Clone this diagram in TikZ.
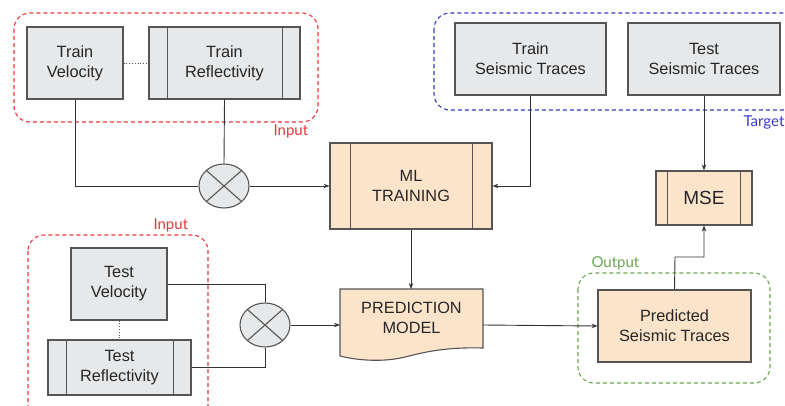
\documentclass[tikz,border=0pt]{standalone}
\usepackage{fontspec}
\setmainfont{Liberation Sans}
\newfontfamily\labelfont{Lato}
\usetikzlibrary{arrows.meta,calc,shapes.geometric}
\definecolor{boxgray}{HTML}{E6E8EA}
\definecolor{peach}{HTML}{FCE4CB}
\definecolor{edge}{HTML}{555555}
\definecolor{inred}{HTML}{E8383B}
\definecolor{tgblue}{HTML}{3A3ACF}
\definecolor{outgreen}{HTML}{6AA84F}
\begin{document}
\begin{tikzpicture}[x=1pt,y=-1pt,
  txt/.style={font=\fontsize{16.3}{20}\selectfont, align=center, text=black!85},
  plainbox/.style={txt, draw=edge, line width=1.1pt, fill=boxgray, inner sep=0pt},
  procbox/.style={txt, draw=edge, line width=1.1pt, inner sep=0pt},
  group/.style={dashed, dash pattern=on 4pt off 3pt, line width=1.1pt, rounded corners=16pt},
  grouplabel/.style={font=\labelfont\fontsize{15}{16}\selectfont, anchor=base west},
  link/.style={draw=black!80, line width=0.9pt},
  arr/.style={link, -{Stealth[length=6pt,width=4.5pt]}},
  mult/.style={draw=edge, line width=1.1pt, fill=boxgray, ellipse, minimum width=50pt, minimum height=44pt, inner sep=0pt}
]
\useasboundingbox (0,0) rectangle (785,405);
\fill[white] (0,0) rectangle (785,405);

% ---- group frames
\draw[group, draw=inred] (14,13) rectangle (318,122);
\node[grouplabel, text=inred] (lblin1) at (270,135) {Input};
\draw[group, draw=tgblue] (434,13) rectangle (810,110);
\node[grouplabel, text=tgblue] (lbltg) at (740,126) {Target};
\draw[group, draw=inred] (28,235) rectangle (208,425);
\node[grouplabel, text=inred] (lblin2) at (150,229) {Input};
\draw[group, draw=outgreen] (578,273) rectangle (770,383);
\node[grouplabel, text=outgreen] (lblout) at (588,267) {Output};

% ---- plain (grey) boxes
\node[plainbox, minimum width=96pt, minimum height=72pt] (trv) at (75,63) {Train\\Velocity};
\node[plainbox, minimum width=151pt, minimum height=72pt] (trr) at (224.5,63) {Train\\Reflectivity};
\draw[edge, line width=1.1pt] ([xshift=19pt]trr.north west) -- ([xshift=19pt]trr.south west)
  ([xshift=-18pt]trr.north east) -- ([xshift=-18pt]trr.south east);
\node[plainbox, minimum width=151pt, minimum height=72pt] (trs) at (530.5,59) {Train\\Seismic Traces};
\node[plainbox, minimum width=152pt, minimum height=72pt] (tss) at (704,59) {Test\\Seismic Traces};
\node[plainbox, minimum width=96pt, minimum height=72pt] (tv) at (119,284) {Test\\Velocity};
\node[plainbox, minimum width=143pt, minimum height=55pt] (tr) at (119.5,367.5) {Test\\Reflectivity};
\draw[edge, line width=1.1pt] ([xshift=19pt]tr.north west) -- ([xshift=19pt]tr.south west)
  ([xshift=-18pt]tr.north east) -- ([xshift=-18pt]tr.south east);

% ---- process (peach) boxes
\node[procbox, fill=peach, minimum width=162pt, minimum height=86pt] (ml) at (411,186) {ML\\TRAINING};
\draw[edge, line width=1.1pt] ([xshift=21pt]ml.north west) -- ([xshift=21pt]ml.south west)
  ([xshift=-20pt]ml.north east) -- ([xshift=-20pt]ml.south east);
\node[procbox, fill=peach, minimum width=96pt, minimum height=54pt, font=\fontsize{19}{22}\selectfont] (mse) at (704,198) {MSE};
\draw[edge, line width=1.1pt] ([xshift=12pt]mse.north west) -- ([xshift=12pt]mse.south west)
  ([xshift=-12pt]mse.north east) -- ([xshift=-12pt]mse.south east);
\node[procbox, fill=peach, minimum width=153pt, minimum height=72pt] (pst) at (674.5,326) {Predicted\\Seismic Traces};

% prediction model: document shape with a wavy lower edge
\filldraw[fill=peach, draw=edge, line width=1.1pt]
  (340,289) -- (483,289) -- (483,348)
  .. controls (445,347) and (425,352) .. (405,357)
  .. controls (385,362) and (360,361) .. (340,356) -- cycle;
\node[txt, inner sep=0pt] (pm) at (411.5,318) {PREDICTION\\MODEL};
\coordinate (pmtop) at (411,289);
\coordinate (pmleft) at (340,325);
\coordinate (pmright) at (483,325);

% ---- multiplier nodes
\node[mult] (m1) at (224,186) {};
\draw[edge, line width=1.1pt] ($(m1.center)+(-17.7,-15.6)$) -- ($(m1.center)+(17.7,15.6)$)
  ($(m1.center)+(-17.7,15.6)$) -- ($(m1.center)+(17.7,-15.6)$);
\node[mult] (m2) at (265,325) {};
\draw[edge, line width=1.1pt] ($(m2.center)+(-17.7,-15.6)$) -- ($(m2.center)+(17.7,15.6)$)
  ($(m2.center)+(-17.7,15.6)$) -- ($(m2.center)+(17.7,-15.6)$);

% ---- dotted pairings
\draw[edge, line width=0.8pt, dotted] (trv.east) -- (trr.west);
\draw[edge, line width=0.8pt, dotted] (tv.south) -- (tr.north -| tv.south);

% ---- connectors
\draw[link] (trv.south) |- (m1.west);
\draw[link] (trr.south) -- (m1.north);
\draw[arr] (m1.east) -- (ml.west |- m1.east);
\draw[arr] (trs.south) |- (ml.east);
\draw[arr] (tss.south) -- (mse.north);
\draw[arr] (ml.south) -- (pmtop);
\draw[link] (tv.east) -| (m2.north);
\draw[link] (tr.east) -| (m2.south);
\draw[arr] (m2.east) -- (pmleft);
\draw[arr] (pmright) -- (pst.west);
\coordinate (pstup) at (675,257);
\draw[arr] (pst.north) -- (pstup) -| (mse.south);
\end{tikzpicture}
\end{document}
